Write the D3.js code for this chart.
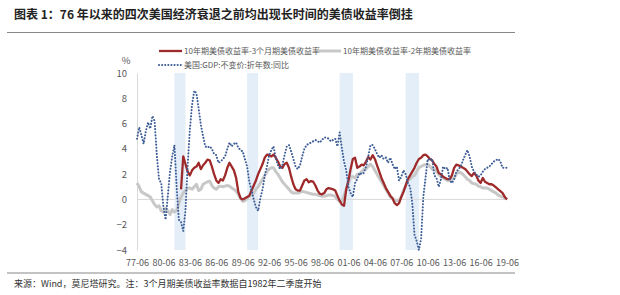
<!DOCTYPE html>
<html>
<head>
<meta charset="utf-8">
<script src="https://cdn.jsdelivr.net/npm/d3@7"></script>
<style>
  body { margin: 0; background: #fff; }
  svg text { font-family: "Noto Sans CJK SC", "Noto Sans", sans-serif; }
</style>
</head>
<body>
<div id="viz-container"></div>
<script>
// quarterly data, first point 1977-06
let startYear = 1977;
let tickLabels = ["77-06","80-06","83-06","86-06","89-06","92-06","95-06","98-06","01-06","04-06","07-06","10-06","13-06","16-06","19-06"];

// 美国:GDP:不变价:折年数:同比 (1977-06 .. 2019-06)
let gdpYoy = [
  4.8, 5.7, 5.1, 4.4,  5.4, 6.1, 5.6, 6.6,  6.2, 3.5, 1.6, 1.3,
  -0.6, -1.6, 0.3, 2.2,  3.4, 4.3, 1.0, -1.6,  -1.8, -2.5, -0.9, 2.7,
  5.5, 7.5, 8.6, 8.4,  7.2, 5.9, 5.0, 4.2,  4.1, 4.2, 4.0, 3.6,
  3.5, 2.9, 3.0, 3.2,  3.4, 4.0, 4.5, 4.2,  4.4, 4.5, 4.1, 3.9,
  3.8, 3.2, 2.6, 1.4,  0.7, 0.0, -0.6, -0.9,  0.1, 0.8, 1.9, 2.6,
  3.5, 3.9, 4.2, 3.3,  2.7, 2.4, 2.7, 3.5,  4.2, 4.3, 3.8, 3.2,
  2.6, 2.4, 2.7, 3.4,  4.0, 4.3, 4.4, 4.5,  4.6, 4.7, 4.6, 4.5,
  4.7, 4.9, 4.9, 4.8,  4.6, 4.7, 4.8, 4.2,  5.3, 4.1, 3.0, 2.3,
  1.0, 0.5, 0.2, 1.3,  1.6, 2.1, 2.0, 2.1,  2.6, 3.4, 4.3, 4.3,
  4.0, 3.6, 3.3, 3.5,  3.2, 3.3, 2.9, 3.3,  2.8, 2.4, 2.6, 1.5,
  1.8, 2.3, 2.0, 1.3,  1.0, -0.3, -2.8, -3.3,  -4.0, -3.1, 0.2, 1.7,
  3.2, 3.1, 3.2, 1.9,  1.7, 1.0, 1.6, 2.6,  2.4, 2.5, 1.5, 1.3,
  1.6, 2.2, 2.4, 2.6,  3.1, 3.5, 3.9, 3.4,  2.6, 2.2, 2.0, 1.8,
  1.9, 2.2, 2.4, 2.5,  2.6, 2.8, 3.0, 3.1,  3.2, 3.0, 2.5, 2.5,
  2.5
];

// 10年期美债收益率-2年期美债收益率 (1977-06 .. 2019-06)
let spread2y = [
  1.3, 1.0, 0.6, 0.5,  0.4, 0.3, 0.2, -0.1,  -0.4, -0.6, -0.5, -0.9,
  -1.0, -0.7, -0.9, -1.2,  -0.8, -1.0, -0.9, -0.3,  0.2, 0.5, 0.7, 0.9,
  0.9, 0.8, 1.0, 1.2,  0.7, 0.8, 1.2, 1.3,  1.4, 1.45, 1.1, 0.9,
  0.8, 1.0, 1.05, 1.0,  1.05, 1.1, 1.05, 0.9,  0.8, 0.65, 0.4, 0.1,
  -0.15, -0.1, 0.1, 0.25,  0.4, 0.5, 0.8, 1.0,  1.3, 1.6, 1.9, 2.2,
  2.4, 2.5, 2.5, 2.2,  2.0, 1.7, 1.4, 1.2,  1.0, 0.8, 0.6, 0.5,
  0.5, 0.5, 0.55, 0.65,  0.6, 0.55, 0.5, 0.45,  0.4, 0.4, 0.35, 0.3,
  0.25, 0.25, 0.3, 0.35,  0.35, 0.3, 0.25, 0.0,  -0.15, -0.1, 0.3, 0.8,
  1.3, 1.8, 1.8, 1.7,  2.0, 2.0, 2.2, 2.4,  2.4, 2.6, 2.8, 2.6,
  2.3, 2.0, 1.7, 1.4,  1.1, 0.8, 0.5, 0.2,  0.05, -0.05, -0.1, -0.05,
  0.2, 0.7, 1.1, 1.5,  1.6, 1.8, 1.9, 2.2,  2.5, 2.6, 2.7, 2.75,
  2.8, 2.6, 2.4, 2.4,  2.2, 2.0, 1.8, 1.7,  1.6, 1.5, 1.5, 1.6,
  1.7, 2.0, 2.2, 2.1,  2.0, 1.8, 1.6, 1.5,  1.3, 1.25, 1.2, 1.05,
  1.0, 0.9, 0.9, 0.9,  0.8, 0.7, 0.6, 0.5,  0.35, 0.25, 0.2, 0.1,
  0.05
];

// 10年期美债收益率-3个月期美债收益率 (1982-06 .. 2019-06)
let spread3mStart = 20;
let spread3m = [
  0.8, 3.4, 2.8, 2.2,  1.9, 2.3, 2.5, 2.6,  2.9, 2.4, 2.7, 2.9,
  3.15, 3.1, 2.6, 2.0,  1.5, 1.3, 1.6, 1.5,  1.9, 2.5, 2.9, 2.6,
  2.3, 1.7, 0.6, 0.1,  0.0, 0.1, 0.2, 0.3,  0.7, 1.1, 1.5, 2.0,
  2.4, 2.8, 3.3, 3.55,  3.5, 3.4, 3.55, 3.3,  3.0, 2.6, 2.5, 2.8,
  2.9, 2.5, 1.8, 1.2,  0.8, 0.7, 0.7, 1.1,  1.5, 1.6, 1.35, 1.45,
  1.4, 1.1, 0.7, 0.45,  0.4, 0.5, 0.8, 0.9,  0.85, 0.8, 0.7, 0.3,
  -0.1, -0.4, -0.5, 0.8,  1.5, 2.4, 3.2, 3.3,  2.5, 2.6, 2.75, 2.7,
  3.0, 3.35, 3.15, 3.5,  3.2, 2.7, 2.2, 1.7,  1.3, 0.9, 0.6, 0.3,
  0.1, -0.3, -0.45, -0.3,  0.2, 0.6, 1.1, 1.6,  1.9, 2.2, 2.5, 2.9,
  3.2, 3.3, 3.5, 3.55,  3.4, 3.2, 3.1, 2.8,  2.6, 2.1, 2.0, 1.8,
  1.7, 1.6, 1.6, 1.9,  2.5, 2.75, 2.7, 2.6,  2.5, 2.4, 2.2, 2.0,
  1.85, 2.1, 1.9, 1.5,  1.3, 1.7, 1.4, 1.3,  1.2, 1.2, 1.1, 0.95,
  0.8, 0.65, 0.5, 0.2,  0.0
];

// recessions, as quarter labels
let recessions = [["81-09","82-12"],["89-12","91-03"],["00-06","01-12"],["07-12","09-06"]];

let legendNames = ["10年期美债收益率-3个月期美债收益率","10年期美债收益率-2年期美债收益率","美国:GDP:不变价:折年数:同比"];

let W = 620, H = 295;
let viz = d3.select("#viz-container")
  .append("svg")
  .attr("width", W)
  .attr("height", H)
;

function quarterLabel(i){
  let months = [6, 9, 12, 3];
  let year = startYear + Math.floor((i + 1) / 4);
  return String(year % 100).padStart(2, "0") + "-" + String(months[i % 4]).padStart(2, "0");
}
let quarters = gdpYoy.map((d, i) => quarterLabel(i));
function qIndex(label){ return quarters.indexOf(label); }

let x = d3.scaleLinear().domain([0, quarters.length - 1]).range([137, 507]);
let y = d3.scaleLinear().domain([-4, 10]).range([250, 73]);

// title
viz.append("text").attr("x", 14).attr("y", 19)
  .attr("font-size", 12).attr("font-weight", "bold").attr("fill", "#222")
  .text("图表 1：76 年以来的四次美国经济衰退之前均出现长时间的美债收益率倒挂");
viz.append("line").attr("x1", 7).attr("x2", 515).attr("y1", 32.5).attr("y2", 32.5)
  .attr("stroke", "#888").attr("stroke-width", 1.2);

// recession bands
viz.selectAll("rect.band").data(recessions).enter().append("rect")
  .attr("class", "band")
  .attr("x", d => x(qIndex(d[0])))
  .attr("width", d => x(qIndex(d[1])) - x(qIndex(d[0])))
  .attr("y", y(10))
  .attr("height", y(-4) - y(10))
  .attr("fill", "#e3eef8");

// zero line
viz.append("line").attr("x1", x(0)).attr("x2", x(quarters.length - 1))
  .attr("y1", y(0)).attr("y2", y(0)).attr("stroke", "#d9d9d9").attr("stroke-width", 1);

// y axis
let yAxis = viz.append("g").attr("transform", "translate(" + x(0) + ",0)")
  .call(d3.axisLeft(y).tickValues(d3.range(-4, 11, 2)).tickSize(0).tickPadding(10));
yAxis.select(".domain").attr("stroke", "#d9d9d9");
yAxis.selectAll("text").attr("font-size", 9.5).attr("fill", "#595959")
  .attr("font-family", "Liberation Sans, sans-serif");
viz.append("text").attr("x", 126).attr("y", 64).attr("text-anchor", "middle")
  .attr("font-size", 9.5).attr("fill", "#595959").attr("font-family", "Liberation Sans, sans-serif").text("%");

// x axis labels
let xAxis = viz.append("g").attr("transform", "translate(0,257)")
  .call(d3.axisBottom(x).tickValues(tickLabels.map(qIndex)).tickFormat(i => quarters[i]).tickSize(0).tickPadding(3));
xAxis.select(".domain").remove();
xAxis.selectAll("text").attr("font-size", 9).attr("fill", "#595959")
  .attr("font-family", "Liberation Sans, sans-serif");

// lines
let line = d3.line().x(d => x(d[0])).y(d => y(d[1]));
viz.append("path").datum(spread2y.map((v, i) => [i, v]))
  .attr("d", line).attr("fill", "none").attr("stroke", "#c8c8c8").attr("stroke-width", 3)
  .attr("stroke-linejoin", "round");
viz.append("path").datum(spread3m.map((v, i) => [i + spread3mStart, v]))
  .attr("d", line).attr("fill", "none").attr("stroke", "#9e2a2b").attr("stroke-width", 2.3)
  .attr("stroke-linejoin", "round");
viz.append("path").datum(gdpYoy.map((v, i) => [i, v]))
  .attr("d", line).attr("fill", "none").attr("stroke", "#3d5d96").attr("stroke-width", 2)
  .attr("stroke-dasharray", "0.1 3").attr("stroke-linecap", "round");

// legend
let legendStyles = [
  {stroke: "#9e2a2b", width: 2.3, dash: null, x: 159, y: 51},
  {stroke: "#c8c8c8", width: 3, dash: null, x: 318, y: 51},
  {stroke: "#3d5d96", width: 2, dash: "0.1 3", x: 159, y: 65}
];
let legend = viz.selectAll("g.legend").data(legendNames).enter().append("g")
  .attr("class", "legend")
  .attr("transform", (d, i) => "translate(" + legendStyles[i].x + "," + legendStyles[i].y + ")");
legend.append("line").attr("x1", 0).attr("x2", 23).attr("y1", 0).attr("y2", 0)
  .attr("stroke", (d, i) => legendStyles[i].stroke)
  .attr("stroke-width", (d, i) => legendStyles[i].width)
  .attr("stroke-dasharray", (d, i) => legendStyles[i].dash)
  .attr("stroke-linecap", (d, i) => legendStyles[i].dash ? "round" : "butt");
legend.append("text").attr("x", 25).attr("y", 3).attr("font-size", 8)
  .attr("fill", "#595959").text(d => d);

// footer
viz.append("line").attr("x1", 7).attr("x2", 515).attr("y1", 273).attr("y2", 273)
  .attr("stroke", "#888").attr("stroke-width", 1.2);
viz.append("text").attr("x", 14).attr("y", 287).attr("font-size", 9).attr("fill", "#333")
  .text("来源：Wind，莫尼塔研究。注：3个月期美债收益率数据自1982年二季度开始");
</script>
</body>
</html>
